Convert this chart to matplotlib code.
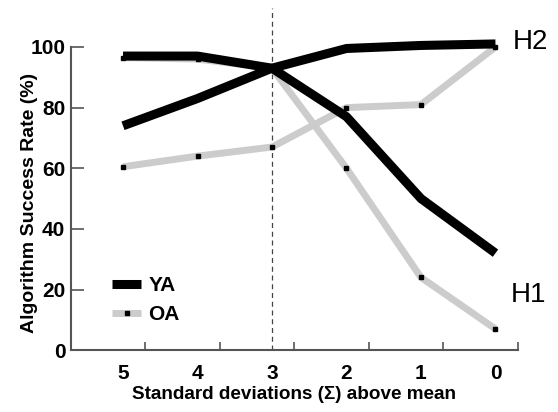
import matplotlib
matplotlib.use("Agg")
import matplotlib.pyplot as plt

# sigma levels above mean (left to right)
sigma = [5, 4, 3, 2, 1, 0]

# success rates (%)
ya_h1 = [97, 97, 93, 77, 50, 32]
ya_h2 = [74, 83, 93, 99.5, 100.5, 101]
oa_h1 = [96.5, 96, 93, 60, 24, 7]
oa_h2 = [60.5, 64, 67, 80, 81, 100]

plt.rcParams['font.family'] = ['Liberation Sans', 'DejaVu Sans']

fig = plt.figure(figsize=(5.58, 4.12), dpi=100)
ax = fig.add_axes([0.127, 0.150, 0.801, 0.736])

gray = '#cccccc'
# older adults: gray line, small black squares
for ys in (oa_h2, oa_h1):
    ax.plot(sigma, ys, color=gray, lw=5, solid_capstyle='butt', zorder=2,
            marker='s', ms=3.2, mfc='black', mec='black', clip_on=False)
# younger adults: thick black line
for ys in (ya_h2, ya_h1):
    ax.plot(sigma, ys, color='black', lw=6.5, solid_capstyle='butt',
            zorder=3, clip_on=False)

# dashed threshold line at 3 sigma
ax.plot([3, 3], [0, 113], color='#444444', lw=0.9, ls=(0, (4, 3)),
        zorder=1, clip_on=False)

ax.set_xlim(5.7, -0.3)
ax.set_ylim(0, 100)
ax.set_xticks([4.7, 3.7, 2.7, 1.7, 0.7, -0.3])
ax.set_xticklabels([])
ax.set_xticks(sigma, minor=True)
ax.set_xticklabels([str(s) for s in sigma], minor=True)
ax.tick_params(axis='x', which='major', direction='in', length=6, width=1.2, color='#555555')
ax.tick_params(axis='x', which='minor', length=0, pad=10, labelsize=15)
ax.set_yticks([0, 20, 40, 60, 80, 100])
ax.tick_params(axis='y', direction='in', length=9, width=1.2, color='#555555',
               labelsize=15, pad=4)
for lab in ax.get_xticklabels(minor=True) + ax.get_yticklabels():
    lab.set_fontweight('bold')

for side in ('top', 'right'):
    ax.spines[side].set_visible(False)
for side in ('left', 'bottom'):
    ax.spines[side].set_color('#555555')
    ax.spines[side].set_linewidth(1.5)

ax.set_xlabel('Standard deviations (\u03a3) above mean', fontsize=13.6,
              fontweight='bold', labelpad=2)
ax.set_ylabel('Algorithm Success Rate (%)', fontsize=14, fontweight='bold')
ax.yaxis.set_label_coords(-0.074, 0.485)

ax.text(0.988, 1.015, 'H2', transform=ax.transAxes, fontsize=20,
        ha='left', va='center', clip_on=False)
ax.text(0.985, 0.183, 'H1', transform=ax.transAxes, fontsize=20,
        ha='left', va='center', clip_on=False)

ya_handle = plt.Line2D([], [], color='black', lw=6.5, solid_capstyle='butt')
oa_handle = plt.Line2D([], [], color=gray, lw=5, solid_capstyle='butt',
                       marker='s', ms=3.2, mfc='black', mec='black')
leg = ax.legend([ya_handle, oa_handle], ['YA', 'OA'], loc='lower left',
                bbox_to_anchor=(0.05, 0.025), frameon=False, fontsize=15,
                handlelength=1.4, handletextpad=0.35, labelspacing=0.45)
for t in leg.get_texts():
    t.set_fontweight('bold')

fig.savefig('out.png', dpi=100)
